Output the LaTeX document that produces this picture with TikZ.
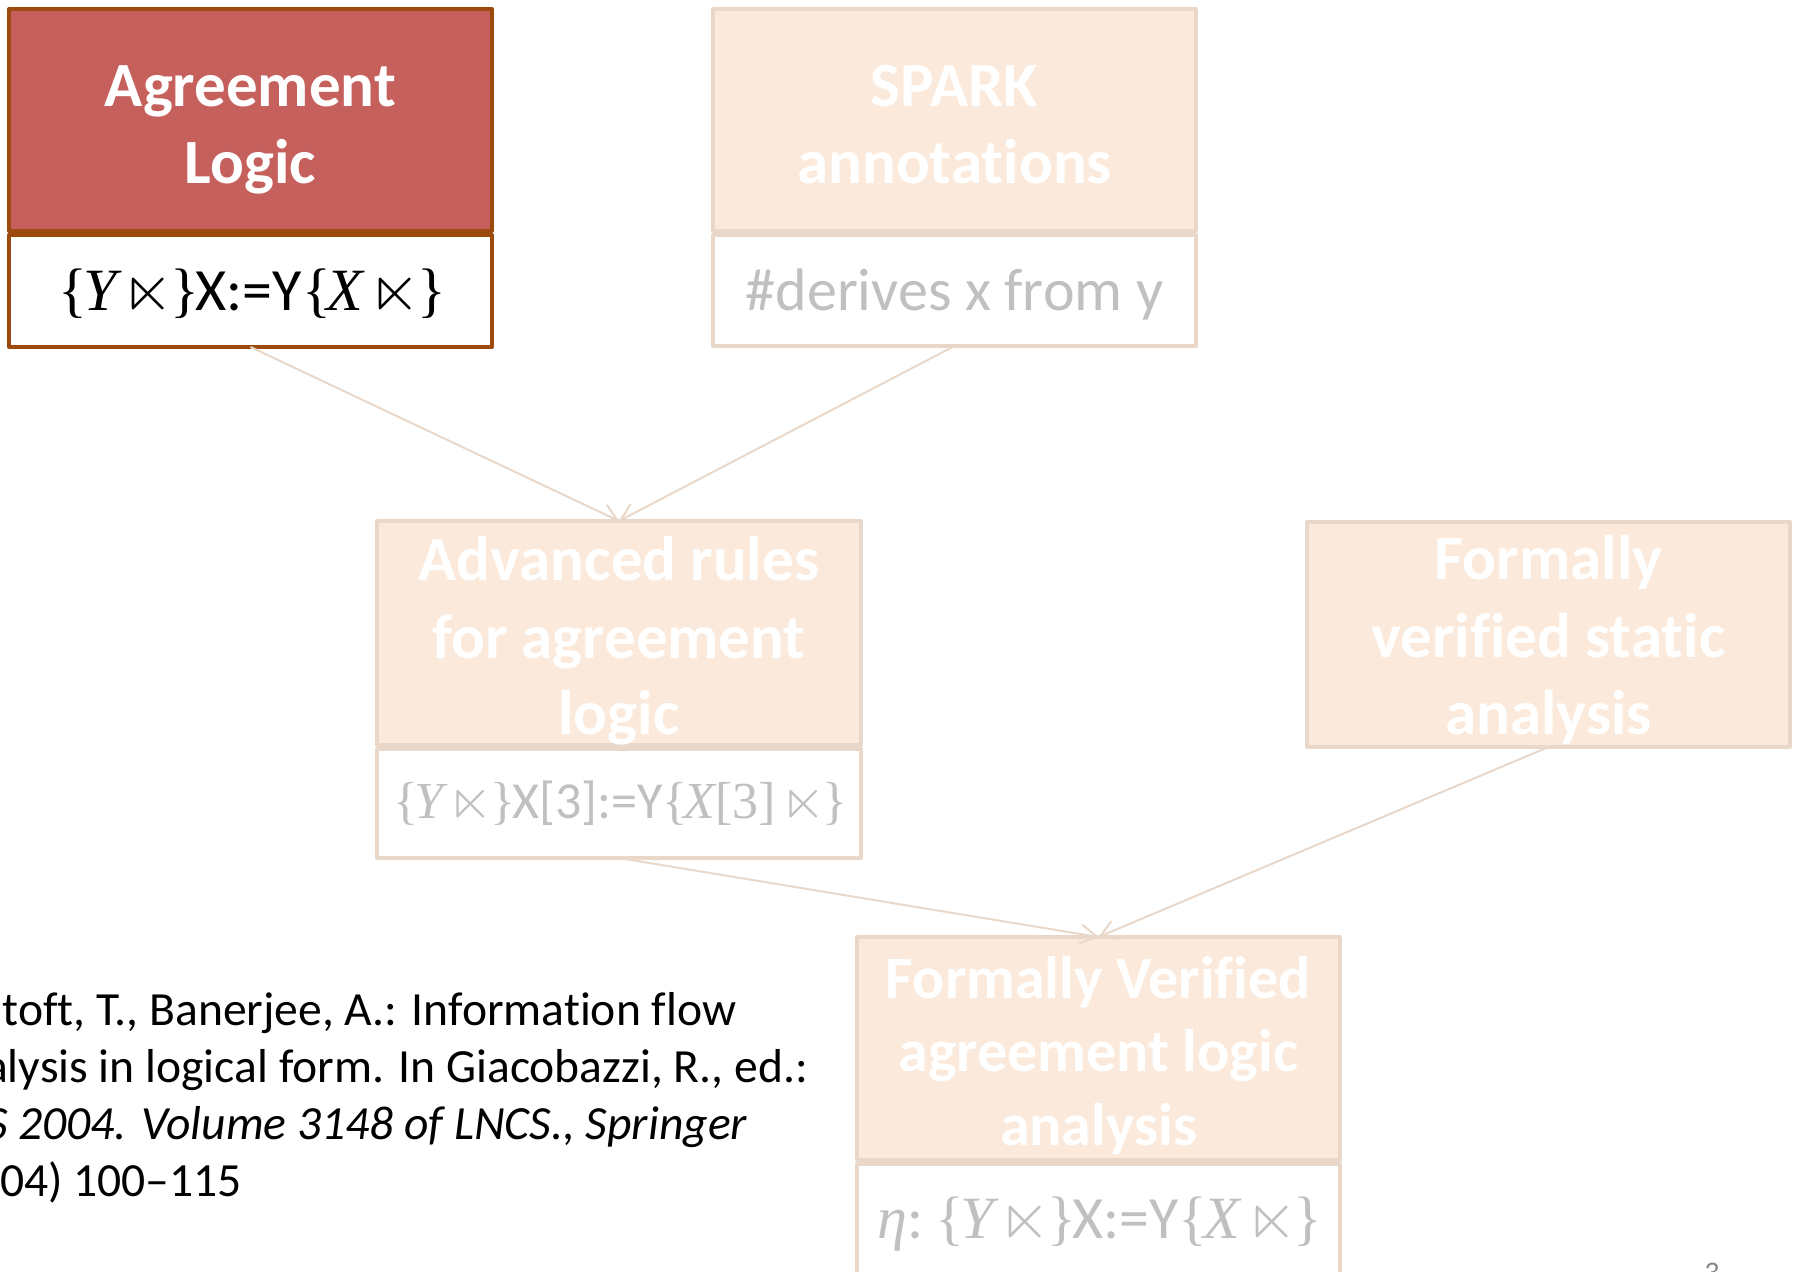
\documentclass[tikz,border=0pt]{standalone}
\usepackage{amssymb}
\usepackage{fontspec}
\setmainfont{Carlito}[Ligatures=CommonOff]
\newfontfamily\mathserif{Liberation Serif}
\usetikzlibrary{arrows.meta,fit}

\definecolor{hotfill}{RGB}{197,96,93}
\definecolor{hotline}{RGB}{156,74,14}
\definecolor{softfill}{RGB}{251,234,219}
\definecolor{softline}{RGB}{233,216,201}
\definecolor{softtext}{RGB}{192,192,192}
\definecolor{pagenum}{RGB}{137,137,137}

\tikzset{
  box/.style={inner sep=0pt, outer sep=0pt, line width=2pt, line join=round},
  hotbox/.style={box, draw=hotline, fill=hotfill},
  hotbody/.style={box, draw=hotline, fill=white},
  softbox/.style={box, draw=softline, fill=softfill},
  softbody/.style={box, draw=softline, fill=white},
  title/.style={anchor=base, inner sep=0pt, text=white,
    font=\fontsize{31.5}{38}\selectfont\bfseries},
  formula/.style={anchor=base, inner sep=0pt,
    font=\fontsize{30}{36}\selectfont},
  citeline/.style={anchor=base west, inner sep=0pt,
    font=\fontsize{23.8}{28}\selectfont},
  link/.style={draw=softline, line width=1pt,
    -{Straight Barb[length=8pt,width=9.5pt]}},
}

% pieces of the annotation formulas
\newcommand{\lbr}{{\mathserif\{}\kern-0.07em}
\newcommand{\rbr}{{\mathserif\}}\kern-0.06em}
\newcommand{\mv}[1]{{\mathserif\itshape #1}}
\newcommand{\mr}[1]{{\mathserif #1}}
\newcommand{\lx}{\kern0.1em\scalebox{1.1}{$\ltimes$}\kern-0.06em}

\begin{document}
\begin{tikzpicture}[x=0.5pt,y=-0.5pt]
\useasboundingbox (0,0) rectangle (1793,1272);
\clip (0,0) rectangle (1793,1272);

% boxes: header and body parts
\node[hotbox,  fit={(9,9)(492,231)}]     (b1h) {};
\node[hotbody, fit={(9,235)(492,347)}]   (b1b) {};
\node[softbox, fit={(713,9)(1196,231)}]  (b2h) {};
\node[softbody,fit={(713,235)(1196,346)}](b2b) {};
\node[softbox, fit={(377,521)(861,745)}] (b3h) {};
\node[softbody,fit={(377,749)(861,858)}] (b3b) {};
\node[softbox, fit={(1307,522)(1790,747)}](b4h) {};
\node[softbox, fit={(857,937)(1340,1160)}](b5h) {};
\node[softbody,fit={(857,1164)(1340,1274)}](b5b) {};

% header titles
\node[title] (t1a) at (b1h.center |- 0,107) {Agreement};
\node[title] (t1b) at (b1h.center |- 0,184) {Logic};
\node[title] (t2a) at (b2h.center |- 0,107) {SPARK};
\node[title] (t2b) at (b2h.center |- 0,184) {annotations};
\node[title] (t3a) at (b3h.center |- 0,581) {Advanced rules};
\node[title] (t3b) at (b3h.center |- 0,658) {for agreement};
\node[title] (t3c) at (b3h.center |- 0,734) {logic};
\node[title] (t4a) at (b4h.center |- 0,580) {Formally};
\node[title] (t4b) at (b4h.center |- 0,657) {verified static};
\node[title] (t4c) at (b4h.center |- 0,734) {analysis};
\node[title, font=\fontsize{30}{36}\selectfont\bfseries] (t5a) at (b5h.center |- 0,998) {Formally Verified};
\node[title, font=\fontsize{30}{36}\selectfont\bfseries] (t5b) at (b5h.center |- 0,1071) {agreement logic};
\node[title, font=\fontsize{30}{36}\selectfont\bfseries] (t5c) at (b5h.center |- 0,1145) {analysis};

% body formulas
\node[formula] (f1) at (b1b.center |- 0,311)
  {\lbr\mv{Y}\lx\rbr X:=Y\lbr\mv{X}\lx\rbr};
\node[formula, text=softtext] (f2) at (b2b.center |- 0,311) {\#derives x from y};
\node[formula, text=softtext, font=\fontsize{26}{31}\selectfont] (f3) at (b3b.center |- 0,818)
  {\lbr\mv{Y}\lx\rbr X[3]:=Y\lbr\mv{X}\mr{[3]}\lx\rbr};
\node[formula, text=softtext] (f5) at (b5b.center |- 0,1238)
  {\mv{η}:\kern0.2em\lbr\mv{Y}\lx\rbr X:=Y\lbr\mv{X}\lx\rbr};

% connectors
\draw[link] (b1b.south) -- (b3h.north);
\draw[link] (b2b.south) -- (b3h.north);
\draw[link] (b3b.south) -- (b5h.north);
\draw[link] (b4h.south) -- (b5h.north);

% reference text
\node[citeline] (c1) at (-63,1025) {Amtoft, T., Banerjee, A.: Information flow};
\node[citeline] (c2) at (-63,1082) {analysis in logical form. In Giacobazzi, R., ed.:};
\node[citeline] (c3) at (-63,1139) {\itshape SAS 2004. Volume 3148 of LNCS., Springer};
\node[citeline] (c4) at (-63,1196) {(2004) 100–115};

% slide number
\node[anchor=base west, inner sep=0pt, text=pagenum,
  font=\fontsize{15}{18}\selectfont] (pn) at (1704,1282) {3};
\end{tikzpicture}
\end{document}
